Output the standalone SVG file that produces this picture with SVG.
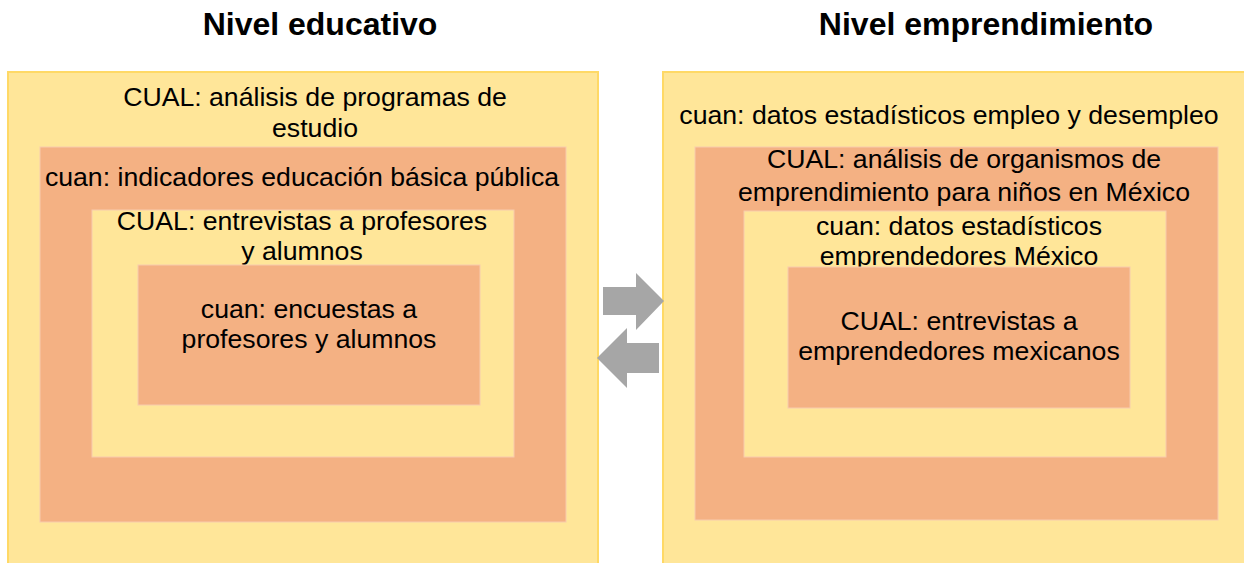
<svg xmlns="http://www.w3.org/2000/svg" width="1244" height="563" viewBox="0 0 1244 563">
<style>
.title{font-family:"Liberation Sans",Arial,sans-serif;font-size:32px;font-weight:bold;fill:#000;text-anchor:middle}
.t{font-family:"Liberation Sans",Arial,sans-serif;font-size:26.67px;fill:#000;text-anchor:middle}
.y{fill:#FFE699;stroke:#FFD966;stroke-width:2}
.yi{fill:#FFE699;stroke:#F8CBAD;stroke-width:1}
.s{fill:#F4B183;stroke:#F8CBAD;stroke-width:1}
.arr{fill:#A6A6A6}
</style>
<rect width="1244" height="563" fill="#fff"/>
<text class="title" x="320" y="35">Nivel educativo</text>
<text class="title" x="986" y="35">Nivel emprendimiento</text>
<g id="left-outer"><rect class="y" x="8" y="72" width="590" height="500"/>
<text class="t" x="315" y="106">CUAL: análisis de programas de</text>
<text class="t" x="315" y="137">estudio</text></g>
<g id="left-2"><rect class="s" x="40" y="147" width="526" height="375"/>
<text class="t" x="302" y="186">cuan: indicadores educación básica pública</text></g>
<g id="left-3"><rect class="yi" x="92" y="210" width="422" height="247"/>
<text class="t" x="302" y="230">CUAL: entrevistas a profesores</text>
<text class="t" x="302" y="260">y alumnos</text></g>
<g id="left-4"><rect class="s" x="138" y="265" width="342" height="140"/>
<text class="t" x="309" y="318">cuan: encuestas a</text>
<text class="t" x="309" y="348">profesores y alumnos</text></g>
<g id="right-outer"><rect class="y" x="663" y="72" width="600" height="500"/>
<text class="t" x="949" y="124">cuan: datos estadísticos empleo y desempleo</text></g>
<g id="right-2"><rect class="s" x="695" y="147" width="523" height="373"/>
<text class="t" x="964" y="168">CUAL: análisis de organismos de</text>
<text class="t" x="964" y="201">emprendimiento para niños en México</text></g>
<g id="right-3"><rect class="yi" x="744" y="211" width="422" height="246"/>
<text class="t" x="959" y="235">cuan: datos estadísticos</text>
<text class="t" x="959" y="265">emprendedores México</text></g>
<g id="right-4"><rect class="s" x="788" y="267" width="342" height="141"/>
<text class="t" x="959" y="330">CUAL: entrevistas a</text>
<text class="t" x="959" y="360">emprendedores mexicanos</text></g>
<g id="connectors">
<polygon class="arr" points="603,287 636,287 636,273 664,301 636,330 636,315 603,315"/>
<polygon class="arr" points="659,343 627,343 627,328 597,358 627,388 627,373 659,373"/>
</g>
</svg>
